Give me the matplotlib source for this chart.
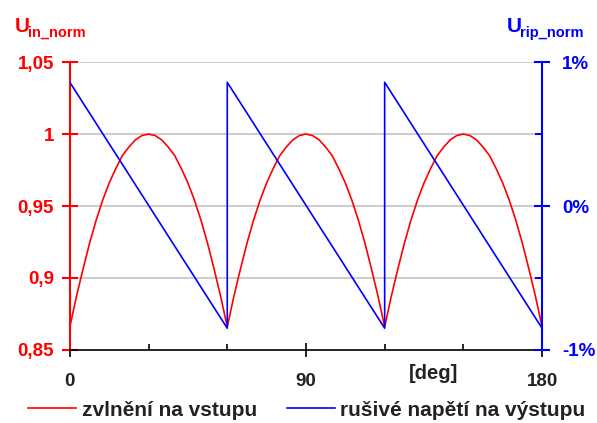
import matplotlib
matplotlib.use('Agg')
import matplotlib.pyplot as plt
from matplotlib.ticker import FixedLocator

plt.rcParams['font.family'] = ['Liberation Sans', 'DejaVu Sans']
plt.rcParams['font.weight'] = 'bold'

# Input ripple (red), read every 2.5 degrees
deg_in = [i * 2.5 for i in range(73)]
u_in = [0.866, 0.887, 0.906, 0.924, 0.940, 0.954, 0.966, 0.976, 0.985, 0.991, 0.996, 0.999,
        1.000, 0.999, 0.996, 0.991, 0.985, 0.976, 0.966, 0.954, 0.940, 0.924, 0.906, 0.887,
        0.866, 0.887, 0.906, 0.924, 0.940, 0.954, 0.966, 0.976, 0.985, 0.991, 0.996, 0.999,
        1.000, 0.999, 0.996, 0.991, 0.985, 0.976, 0.966, 0.954, 0.940, 0.924, 0.906, 0.887,
        0.866, 0.887, 0.906, 0.924, 0.940, 0.954, 0.966, 0.976, 0.985, 0.991, 0.996, 0.999,
        1.000, 0.999, 0.996, 0.991, 0.985, 0.976, 0.966, 0.954, 0.940, 0.924, 0.906, 0.887,
        0.866]

# Output ripple (blue), sawtooth corners in percent
deg_rip = [0, 60, 60, 120, 120, 180]
u_rip = [0.86, -0.85, 0.86, -0.85, 0.86, -0.85]

left_ticks = [0.85, 0.9, 0.95, 1.0, 1.05]
left_labels = ['0,85', '0,9', '0,95', '1', '1,05']
right_ticks = [-1, 0, 1]
right_labels = ['-1%', '0%', '1%']
x_ticks = [0, 90, 180]
x_minor = [30, 60, 120, 150]

red = '#ff0000'
blue = '#0000ff'
txt = '#222222'

fig = plt.figure(figsize=(5.97, 4.23), dpi=100)
ax = fig.add_axes([0.117, 0.173, 0.791, 0.680])
ax2 = ax.twinx()

ax.set_xlim(0, 180)
ax.set_ylim(0.85, 1.05)
ax2.set_ylim(-1, 1)

for y in [0.9, 0.95, 1.0, 1.05]:
    ax.axhline(y, color='#c4c4c4', lw=1.2, zorder=0)

l1, = ax.plot(deg_in, u_in, color=red, lw=1.2, label='zvlnění na vstupu', zorder=3)
l2, = ax2.plot(deg_rip, u_rip, color=blue, lw=1.2, label='rušivé napětí na výstupu', zorder=3)

ax.spines['top'].set_visible(False)
ax2.spines['top'].set_visible(False)
ax.spines['left'].set_color(red)
ax.spines['left'].set_linewidth(1.5)
ax2.spines['left'].set_visible(False)
ax2.spines['right'].set_color(blue)
ax2.spines['right'].set_linewidth(1.5)
ax.spines['right'].set_visible(False)
ax2.spines['bottom'].set_visible(False)
ax.spines['bottom'].set_linewidth(1.2)

ax.set_yticks(left_ticks)
ax.set_yticklabels(left_labels)
ax.tick_params(axis='y', colors=red, direction='inout', length=11, width=1.5,
               labelsize=13.5, pad=6)
ax.set_xticks(x_ticks)
ax.xaxis.set_minor_locator(FixedLocator(x_minor))
ax.tick_params(axis='x', which='major', direction='inout', length=10, width=1.2,
               labelsize=13.5, pad=12, labelcolor=txt)
ax.tick_params(axis='x', which='minor', direction='in', length=4, width=1.2)

ax2.set_yticks(right_ticks)
ax2.set_yticklabels(right_labels)
ax2.yaxis.set_minor_locator(FixedLocator([-0.5, 0.5]))
ax2.tick_params(axis='y', which='major', colors=blue, direction='inout', length=11,
                width=1.5, labelsize=13.5, pad=9)
ax2.tick_params(axis='y', which='minor', colors=blue, direction='in', length=5, width=1.5)

fig.text(0.025, 1 - 32 / 423, 'U', color=red, fontsize=15, ha='left', va='baseline')
fig.text(0.047, 1 - 37 / 423, 'in_norm', color=red, fontsize=10.5, ha='left', va='baseline')
fig.text(0.848, 1 - 32 / 423, 'U', color=blue, fontsize=15, ha='left', va='baseline')
fig.text(0.871, 1 - 37 / 423, 'rip_norm', color=blue, fontsize=10.5, ha='left', va='baseline')

fig.text(0.726, 1 - 379 / 423, '[deg]', color=txt, fontsize=14.5, ha='center', va='baseline')

fig.legend(handles=[l1, l2], loc='center', bbox_to_anchor=(0.514, 1 - 410 / 423), ncol=2,
           frameon=False, fontsize=15, handlelength=2.3, columnspacing=1.45,
           handletextpad=0.25, labelcolor=txt, borderpad=0, borderaxespad=0)

fig.savefig('out.png', dpi=100)
